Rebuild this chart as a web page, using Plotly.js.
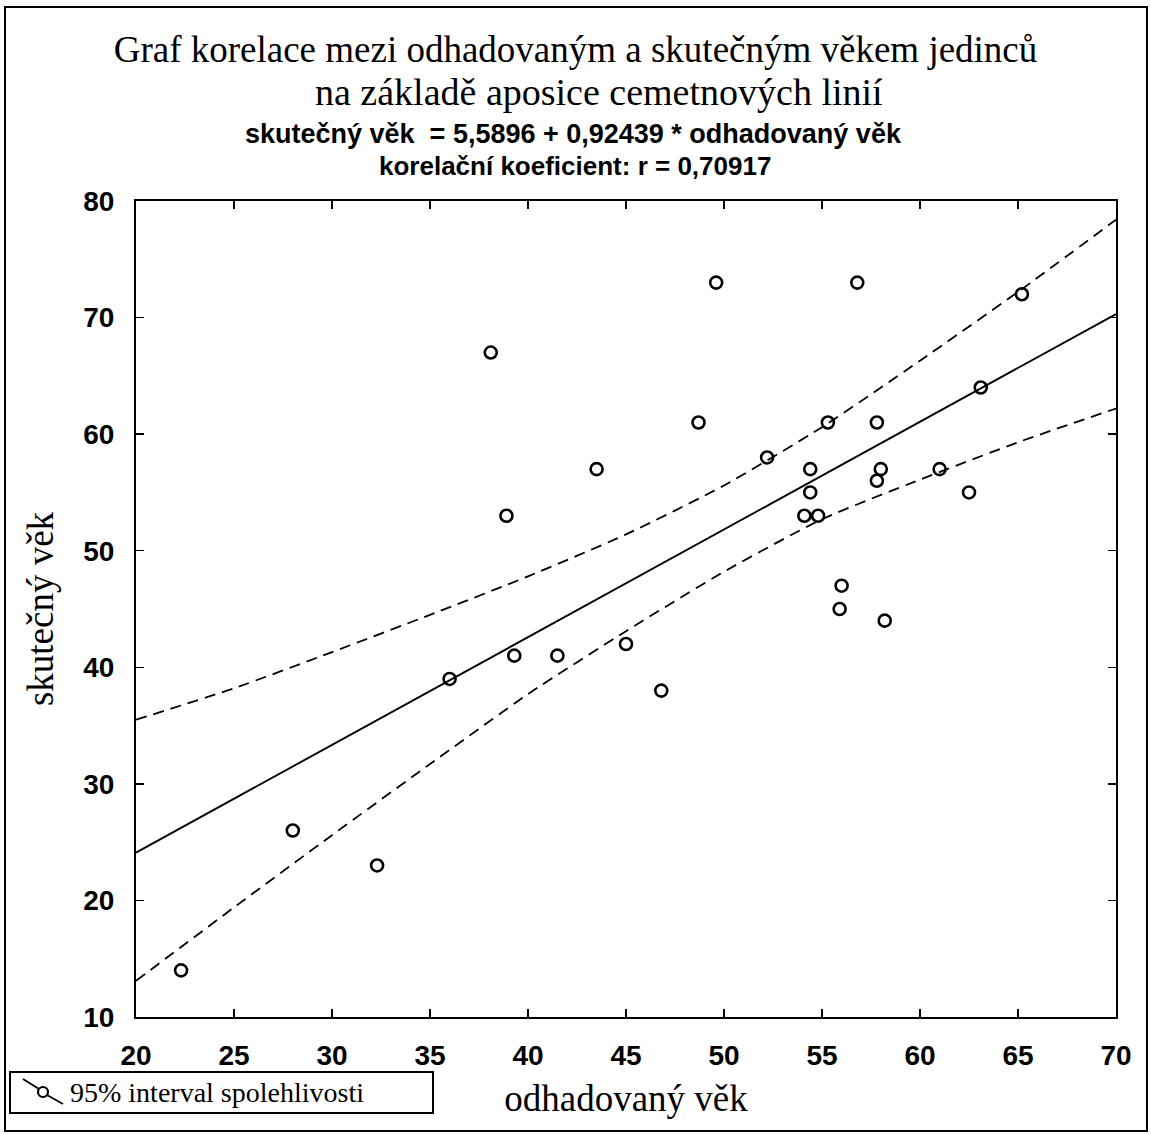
<!DOCTYPE html>
<html>
<head>
<meta charset="utf-8">
<script src="https://cdn.plot.ly/plotly-3.0.1.min.js"></script>
<style>
  html, body { margin: 0; padding: 0; background: #ffffff; }
  #chart { width: 1151px; height: 1135px; }
</style>
</head>
<body>
<div id="chart"></div>
<script>
// ---- data ----
const estimatedAge = [22.3, 28.0, 32.3, 36.0, 38.1, 38.9, 39.3, 41.5, 43.5, 45.0,
                      46.8, 48.7, 49.6, 52.2, 54.1, 54.4, 54.4, 54.8, 55.3, 56.0,
                      55.9, 56.8, 57.8, 58.0, 57.8, 58.2, 61.0, 62.5, 63.1, 65.2];
const actualAge    = [14, 26, 23, 39, 67, 53, 41, 41, 57, 42,
                      38, 61, 73, 58, 53, 57, 55, 53, 61, 47,
                      45, 73, 61, 57, 56, 44, 57, 55, 64, 72];
const fitX = [20, 70];
const fitY = [24.1, 70.3];
const bandX     = [20, 25, 30, 35, 40, 45, 50, 55, 60, 65, 70];
const bandUpper = [35.5, 38.2, 41.3, 44.5, 47.8, 51.4, 55.6, 60.6, 66.3, 72.2, 78.4];
const bandLower = [13.1, 19.4, 25.6, 31.7, 37.7, 43.1, 48.2, 52.7, 56.1, 59.3, 62.2];
const xTicks = [20, 25, 30, 35, 40, 45, 50, 55, 60, 65, 70];
const yTicks = [10, 20, 30, 40, 50, 60, 70, 80];

const titleLine1 = 'Graf korelace mezi odhadovaným a skutečným věkem jedinců';
const titleLine2 = 'na základě aposice cemetnových linií';
const eqLine = 'skutečný věk &nbsp;= 5,5896 + 0,92439 * odhadovaný věk';
const rLine = 'korelační koeficient: r = 0,70917';
const legendText = '95% interval spolehlivosti';
const xTitle = 'odhadovaný věk';
const yTitle = 'skutečný věk';

// ---- layout geometry (pixels -> paper) ----
const W = 1151, H = 1135;
const L = 136, R = 1116, T = 201, B = 1017;
const px = p => (p - L) / (R - L);
const py = p => (B - p) / (B - T);

const serif = 'Liberation Serif, Times New Roman, serif';
const sans = 'Liberation Sans, Arial, sans-serif';

const traces = [
  {
    x: bandX, y: bandUpper, type: 'scatter', mode: 'lines',
    line: { color: '#000', width: 1.8, dash: '11px,7px', shape: 'spline', smoothing: 0.6 },
    showlegend: false, hoverinfo: 'skip'
  },
  {
    x: bandX, y: bandLower, type: 'scatter', mode: 'lines',
    line: { color: '#000', width: 1.8, dash: '11px,7px', shape: 'spline', smoothing: 0.6 },
    showlegend: false, hoverinfo: 'skip'
  },
  {
    x: fitX, y: fitY, type: 'scatter', mode: 'lines',
    line: { color: '#000', width: 1.9 },
    showlegend: false
  },
  {
    x: estimatedAge, y: actualAge, type: 'scatter', mode: 'markers',
    marker: { symbol: 'circle-open', size: 12, color: '#000', line: { width: 2.6, color: '#000' } },
    showlegend: false, cliponaxis: false
  }
];

const axisCommon = {
  showline: true, linecolor: '#000', linewidth: 2, mirror: 'ticks',
  ticks: 'inside', ticklen: 8, tickwidth: 1.5, tickcolor: '#000',
  showgrid: false, zeroline: false, automargin: false,
  tickfont: { family: sans, size: 28, color: '#000', weight: 'bold' }
};

const layout = {
  width: W, height: H,
  paper_bgcolor: '#fff', plot_bgcolor: '#fff',
  margin: { l: L, r: W - R, t: T, b: H - B, pad: 0 },
  showlegend: false,
  title: {
    text: titleLine1,
    font: { family: serif, size: 37, color: '#000' },
    xref: 'container', x: 0.5, xanchor: 'center',
    yref: 'container', y: 1 - 49 / H, yanchor: 'middle'
  },
  xaxis: Object.assign({}, axisCommon, {
    range: [20, 70], tickvals: xTicks, ticktext: xTicks.map(String),
    ticklabelstandoff: 12,
    title: { text: xTitle, font: { family: serif, size: 37, color: '#000' }, standoff: 16 }
  }),
  yaxis: Object.assign({}, axisCommon, {
    range: [10, 80], tickvals: yTicks, ticktext: yTicks.map(String),
    ticklabelstandoff: 14,
    title: { text: yTitle, font: { family: serif, size: 37, color: '#000' }, standoff: 18 }
  }),
  annotations: [
    { text: titleLine2, xref: 'paper', yref: 'paper', x: px(599), y: py(92),
      xanchor: 'center', yanchor: 'middle', showarrow: false,
      font: { family: serif, size: 38, color: '#000' } },
    { text: eqLine, xref: 'paper', yref: 'paper', x: px(573), y: py(134),
      xanchor: 'center', yanchor: 'middle', showarrow: false,
      font: { family: sans, size: 27, color: '#000', weight: 'bold' } },
    { text: rLine, xref: 'paper', yref: 'paper', x: px(575), y: py(166),
      xanchor: 'center', yanchor: 'middle', showarrow: false,
      font: { family: sans, size: 26, color: '#000', weight: 'bold' } },
    { text: legendText, xref: 'paper', yref: 'paper', x: px(68), y: py(1092),
      xanchor: 'left', yanchor: 'middle', showarrow: false,
      font: { family: serif, size: 28, color: '#000' } }
  ],
  shapes: [
    // outer frame of the figure
    { type: 'rect', xref: 'paper', yref: 'paper', x0: px(5), x1: px(1147), y0: py(1131), y1: py(7),
      line: { color: '#000', width: 2 }, fillcolor: 'rgba(0,0,0,0)' },
    // legend box
    { type: 'rect', xref: 'paper', yref: 'paper', x0: px(10), x1: px(433), y0: py(1113), y1: py(1072),
      line: { color: '#000', width: 2 }, fillcolor: 'rgba(0,0,0,0)' },
    // legend glyph
    { type: 'line', xref: 'paper', yref: 'paper', x0: px(23), y0: py(1079), x1: px(39), y1: py(1089),
      line: { color: '#000', width: 1.8 } },
    { type: 'circle', xref: 'paper', yref: 'paper', x0: px(38), x1: px(48), y0: py(1097), y1: py(1087),
      line: { color: '#000', width: 2.2 }, fillcolor: 'rgba(0,0,0,0)' },
    { type: 'line', xref: 'paper', yref: 'paper', x0: px(47), y0: py(1095), x1: px(63), y1: py(1104),
      line: { color: '#000', width: 1.8 } }
  ]
};

Plotly.newPlot('chart', traces, layout, { staticPlot: true, displayModeBar: false });
</script>
</body>
</html>
